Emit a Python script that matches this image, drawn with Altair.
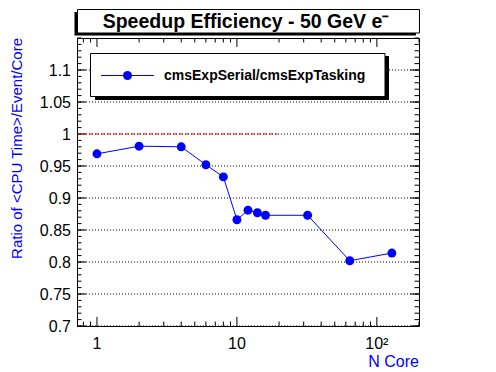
import altair as alt
import pandas as pd

# ---- data ----
n_core = [1, 2, 4, 6, 8, 10, 12, 14, 16, 32, 64, 128]
ratio = [0.969, 0.981, 0.980, 0.952, 0.933, 0.866, 0.881, 0.877, 0.873, 0.873, 0.802, 0.814]
series_name = "cmsExpSerial/cmsExpTasking"
title_text = "Speedup Efficiency - 50 GeV e\u207b"
x_title = "N Core"
y_title = "Ratio of <CPU Time>/Event/Core"

x_domain = [0.72, 200]
y_domain = [0.7, 1.15]
x_major = [1, 10, 100]
x_major_labels = ["1", "10", "10\u00b2"]
x_minor = [0.8, 0.9, 2, 3, 4, 5, 6, 7, 8, 9, 20, 30, 40, 50, 60, 70, 80, 90, 200]
y_major = [0.7, 0.75, 0.8, 0.85, 0.9, 0.95, 1.0, 1.05, 1.1]
y_major_labels = ["0.7", "0.75", "0.8", "0.85", "0.9", "0.95", "1", "1.05", "1.1"]
y_minor = [round(0.70 + 0.01 * i, 2) for i in range(46)]
ref_x = [0.72, 19.5]
ref_y = [1.0, 1.0]

W, H = 342, 288
FONT = "Liberation Sans"
BLUE = "#0000ff"

df = pd.DataFrame({"N": n_core, "ratio": ratio})
ref_df = pd.DataFrame({"x0": [ref_x[0]], "x1": [ref_x[1]], "y": [ref_y[0]]})
deco_df = pd.DataFrame({"name": [series_name], "title": [title_text],
                        "xt": [x_title], "yt": [y_title]})
xlab_df = pd.DataFrame({"v": x_major, "t": x_major_labels})
ylab_df = pd.DataFrame({"v": y_major, "t": y_major_labels})

xs = alt.Scale(type="log", domain=x_domain, nice=False)
ys = alt.Scale(domain=y_domain, nice=False, zero=False)


def X(field):
    return alt.X(field, scale=xs, axis=None)


def Y(field):
    return alt.Y(field, scale=ys, axis=None)


# dotted horizontal grid at the major y values
grid = alt.Chart(pd.DataFrame({"v": y_major})).mark_rule(
    color="black", strokeWidth=1, strokeDash=[1, 2]).encode(
    y=Y("v:Q"), x=alt.value(0), x2=alt.value(W))

line = alt.Chart(df).mark_line(color=BLUE, strokeWidth=1).encode(
    x=X("N:Q"), y=Y("ratio:Q"))
points = alt.Chart(df).mark_point(filled=True, color=BLUE, size=80, opacity=1,
                                  shape="circle").encode(x=X("N:Q"), y=Y("ratio:Q"))


# inward ROOT-style ticks on all four sides, placed through the chart's scales
def y_ticks(values, a, b):
    return alt.Chart(pd.DataFrame({"v": values})).mark_rule(
        color="black", strokeWidth=1).encode(
        y=Y("v:Q"), x=alt.value(a), x2=alt.value(b))


def x_ticks(values, a, b):
    return alt.Chart(pd.DataFrame({"v": values})).mark_rule(
        color="black", strokeWidth=1).encode(
        x=X("v:Q"), y=alt.value(a), y2=alt.value(b))


ticks = [
    y_ticks(y_major, 0, 9), y_ticks(y_major, W - 9, W),
    y_ticks(y_minor, 0, 4.5), y_ticks(y_minor, W - 4.5, W),
    x_ticks(x_major, H - 9, H), x_ticks(x_major, 0, 9),
    x_ticks(x_minor, H - 4.5, H), x_ticks(x_minor, 0, 4.5),
]

# tick labels
y_labels = alt.Chart(ylab_df).mark_text(
    font=FONT, fontSize=16, color="black", align="right", baseline="alphabetic",
    dy=6).encode(y=Y("v:Q"), x=alt.value(-6), text="t:N")
x_labels = alt.Chart(xlab_df).mark_text(
    font=FONT, fontSize=16, color="black", align="center",
    baseline="alphabetic").encode(x=X("v:Q"), y=alt.value(H + 23), text="t:N")

ref = alt.Chart(ref_df).mark_rule(color="red", strokeWidth=1, strokeDash=[4, 2]).encode(
    x=X("x0:Q"), x2="x1:Q", y=Y("y:Q"))

deco = alt.Chart(deco_df)
# axis titles
x_title_mark = deco.mark_text(font=FONT, fontSize=16, color=BLUE, align="right",
                              baseline="alphabetic").encode(
    x=alt.value(W), y=alt.value(H + 41), text="xt:N")
y_title_mark = deco.mark_text(font=FONT, fontSize=15, color=BLUE, align="right",
                              baseline="alphabetic", angle=270).encode(
    x=alt.value(-55), y=alt.value(0), text="yt:N")

# title box with shadow (left/bottom)
t_shadow = deco.mark_rect(color="black").encode(
    x=alt.value(-2.5), x2=alt.value(W - 3), y=alt.value(-26), y2=alt.value(-2.5))
t_box = deco.mark_rect(fill="white", stroke="black", strokeWidth=1).encode(
    x=alt.value(0.5), x2=alt.value(W + 0.5), y=alt.value(-28.5), y2=alt.value(-5))
t_text = deco.mark_text(font=FONT, fontSize=19.5, fontWeight="bold", color="black",
                        align="center", baseline="alphabetic").encode(
    x=alt.value(W / 2 - 2), y=alt.value(-10.5), text="title:N")

# legend box with shadow (right/bottom)
l_shadow = deco.mark_rect(color="black").encode(
    x=alt.value(18), x2=alt.value(312), y=alt.value(18), y2=alt.value(62))
l_box = deco.mark_rect(fill="white", stroke="black", strokeWidth=1).encode(
    x=alt.value(13.5), x2=alt.value(308), y=alt.value(15.5), y2=alt.value(58.5))
l_line = deco.mark_rule(color=BLUE, strokeWidth=1).encode(
    x=alt.value(24), x2=alt.value(77), y=alt.value(37.5))
l_point = deco.mark_point(filled=True, color=BLUE, size=80, opacity=1,
                          shape="circle").encode(x=alt.value(50.5), y=alt.value(37.5))
l_text = deco.mark_text(font=FONT, fontSize=14, fontWeight="bold", color="black",
                        align="left", baseline="middle").encode(
    x=alt.value(87), y=alt.value(37.5), text="name:N")

chart = alt.layer(
    grid, line, *ticks, ref, points, y_labels, x_labels, x_title_mark, y_title_mark,
    t_shadow, t_box, t_text, l_shadow, l_box, l_line, l_point, l_text,
).properties(
    width=W, height=H,
    autosize=alt.AutoSizeParams(type="none"),
    padding={"left": 69, "top": 30, "right": 60, "bottom": 44},
    background="white",
).configure_view(stroke="black", strokeWidth=1)

chart.save("out.html", embed_options={"renderer": "svg", "actions": False})
